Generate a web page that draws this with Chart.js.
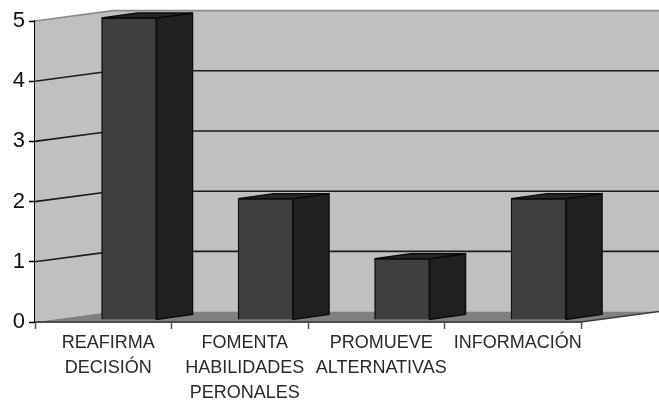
<!DOCTYPE html>
<html>
<head>
<meta charset="utf-8">
<style>
  html, body { margin: 0; background: #fff; }
  canvas { display: block; filter: blur(0.5px); }
</style>
<script src="https://cdn.jsdelivr.net/npm/chart.js@4"></script>
</head>
<body>
<canvas id="chart" width="659" height="400"></canvas>
<script>
const categories = [
  ['REAFIRMA', 'DECISIÓN'],
  ['FOMENTA', 'HABILIDADES', 'PERONALES'],
  ['PROMUEVE', 'ALTERNATIVAS'],
  ['INFORMACIÓN']
];
const values = [5, 2, 1, 2];
const yMax = 5;

// fake 3D offsets, in pixels
const wallDx = 78, wallDy = -10.4;
const barShiftX = 25.8, barShiftTop = -3, barShiftBase = -2;
const barDx = 36, barDy = -5;

function poly(ctx, pts, fill, stroke, lw) {
  ctx.beginPath();
  pts.forEach((p, i) => i ? ctx.lineTo(p[0], p[1]) : ctx.moveTo(p[0], p[1]));
  ctx.closePath();
  if (fill) { ctx.fillStyle = fill; ctx.fill(); }
  if (stroke) { ctx.strokeStyle = stroke; ctx.lineWidth = lw || 1; ctx.stroke(); }
}

const box3d = {
  id: 'box3d',
  // move the bars back on the floor
  afterDatasetsUpdate(chart) {
    chart.getDatasetMeta(0).data.forEach(el => {
      el.x += barShiftX;
      el.y += barShiftTop;
      el.base += barShiftBase;
    });
  },
  beforeDatasetsDraw(chart) {
    const { ctx, chartArea: a, scales: { y } } = chart;
    const right = a.right + wallDx;
    const y0 = y.getPixelForValue(0), yTop = y.getPixelForValue(yMax);
    ctx.save();

    // walls
    poly(ctx, [[a.left, y0], [a.left, yTop], [a.left + wallDx, yTop + wallDy], [right, yTop + wallDy], [right, y0 + wallDy], [a.left + wallDx, y0 + wallDy]], '#c0c0c0');
    // floor
    poly(ctx, [[a.left, y0], [a.left + wallDx, y0 + wallDy], [right, y0 + wallDy], [a.right, y0]], '#808080');

    // grid lines, side wall then back wall
    for (let v = 1; v <= yMax; v++) {
      const py = y.getPixelForValue(v);
      ctx.beginPath();
      ctx.moveTo(a.left, py);
      ctx.lineTo(a.left + wallDx, py + wallDy);
      ctx.lineTo(right, py + wallDy);
      ctx.strokeStyle = v === yMax ? '#8c8c8c' : '#1c1c1c';
      ctx.lineWidth = 1.6;
      ctx.stroke();
    }

    // floor front edge
    ctx.beginPath();
    ctx.moveTo(a.left, y0);
    ctx.lineTo(a.right, y0);
    ctx.lineTo(right, y0 + wallDy);
    ctx.strokeStyle = '#3a3a3a';
    ctx.lineWidth = 1.5;
    ctx.stroke();

    // bar sides and tops
    chart.getDatasetMeta(0).data.forEach(el => {
      const r = el.x + el.width / 2, l = el.x - el.width / 2;
      poly(ctx, [[r, el.y], [r + barDx, el.y + barDy], [r + barDx, el.base + barDy], [r, el.base]], '#202020', '#0a0a0a', 1.4);
      poly(ctx, [[l, el.y], [l + barDx, el.y + barDy], [r + barDx, el.y + barDy], [r, el.y]], '#262626', '#0a0a0a', 1.4);
    });
    ctx.restore();
  }
};

new Chart(document.getElementById('chart'), {
  type: 'bar',
  data: {
    labels: categories,
    datasets: [{
      data: values,
      backgroundColor: '#3f3f3f',
      borderColor: '#0d0d0d',
      borderWidth: 1.4,
      barThickness: 55,
      clip: false
    }]
  },
  plugins: [box3d],
  options: {
    responsive: false,
    animation: false,
    layout: { padding: { top: 21, right: 78, left: 0, bottom: 0 } },
    plugins: { legend: { display: false }, tooltip: { enabled: false } },
    scales: {
      x: {
        afterFit(s) { s.height = 78; },
        border: { color: '#333', width: 1.5 },
        grid: { drawOnChartArea: false, tickLength: 7, tickColor: '#555', tickWidth: 1.5 },
        ticks: {
          color: '#2a2a2a',
          font: { family: 'Liberation Sans', size: 18, lineHeight: 1.38 },
          padding: 2,
          labelOffset: 5,
          maxRotation: 0,
          autoSkip: false
        }
      },
      y: {
        min: 0,
        max: yMax,
        afterFit(s) { s.width = 35; },
        border: { color: '#000', width: 2 },
        grid: { drawOnChartArea: false, tickLength: 6, tickColor: '#000', tickWidth: 1.5 },
        ticks: {
          stepSize: 1,
          color: '#111',
          font: { family: 'Liberation Sans', size: 22 },
          padding: 4
        }
      }
    }
  }
});
</script>
</body>
</html>
